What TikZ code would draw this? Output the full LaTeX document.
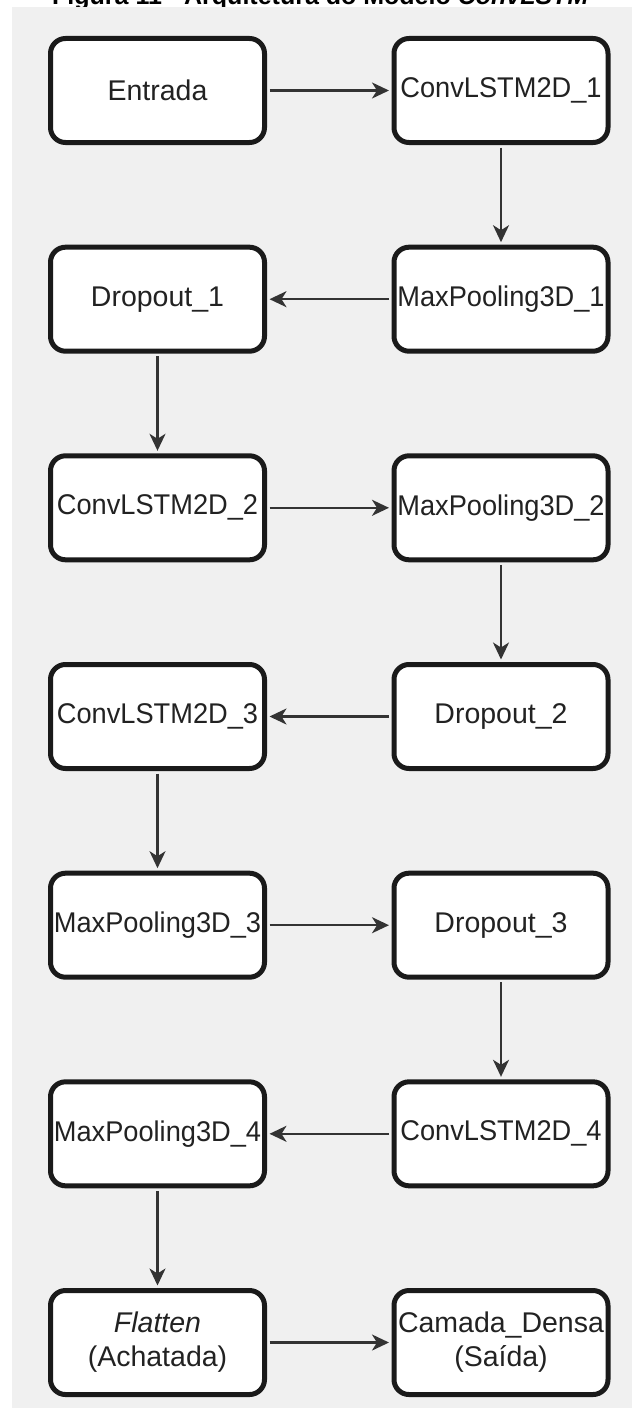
\documentclass[tikz,border=0pt]{standalone}
\usepackage{fontspec}
\usepackage{graphicx}
\setmainfont{Liberation Sans}
\usetikzlibrary{arrows.meta}

\definecolor{panelgray}{HTML}{F0F0F0}
\definecolor{boxline}{HTML}{1A1A1A}
\definecolor{wire}{HTML}{333333}
\definecolor{ink}{HTML}{222222}

% long layer names are set slightly condensed so they fit inside the boxes
\newcommand{\narrowlabel}[1]{\scalebox{0.955}[1]{#1}}

\tikzset{
  layer/.style={draw=boxline, line width=5pt, fill=white, rounded corners=15pt,
    minimum width=214pt, minimum height=104pt, inner sep=0pt, text=ink,
    font=\fontsize{28.5}{34}\selectfont, align=center},
  flow/.style={draw=wire, line width=2.2pt,
    -{Stealth[length=17pt,width=16pt,inset=5pt]},
    shorten >=2.5pt, shorten <=2.5pt}
}

\begin{document}
\begin{tikzpicture}[x=1pt,y=-1pt]
\useasboundingbox (0,0) rectangle (632,1410);

% caption above the panel
\node[anchor=base west, inner sep=0pt, text=black,
  font=\bfseries\fontsize{25}{25}\selectfont] (caption) at (52,5)
  {Figura 11 - Arquitetura do Modelo \textit{ConvLSTM}};

% light panel behind the diagram
\fill[panelgray] (12,7) rectangle (632,1408);

% left column x = 157.5, right column x = 501
\node[layer] (entrada) at (157.5,90.5)  {Entrada};
\node[layer] (conv1)   at (501,90.5)    {\narrowlabel{ConvLSTM2D\_1}};
\node[layer] (pool1)   at (501,299.2)   {\narrowlabel{MaxPooling3D\_1}};
\node[layer] (drop1)   at (157.5,299.2) {Dropout\_1};
\node[layer] (conv2)   at (157.5,507.8) {\narrowlabel{ConvLSTM2D\_2}};
\node[layer] (pool2)   at (501,507.8)   {\narrowlabel{MaxPooling3D\_2}};
\node[layer] (drop2)   at (501,716.5)   {Dropout\_2};
\node[layer] (conv3)   at (157.5,716.5) {\narrowlabel{ConvLSTM2D\_3}};
\node[layer] (pool3)   at (157.5,925.2) {\narrowlabel{MaxPooling3D\_3}};
\node[layer] (drop3)   at (501,925.2)   {Dropout\_3};
\node[layer] (conv4)   at (501,1133.8)  {\narrowlabel{ConvLSTM2D\_4}};
\node[layer] (pool4)   at (157.5,1133.8){\narrowlabel{MaxPooling3D\_4}};
\node[layer] (flat)    at (157.5,1342.5){\textit{Flatten}\\(Achatada)};
\node[layer] (dense)   at (501,1342.5)  {Camada\_Densa\\(Saída)};

% data flow
\draw[flow] (entrada.east) -- (conv1.west);
\draw[flow] (conv1.south)  -- (pool1.north);
\draw[flow] (pool1.west)   -- (drop1.east);
\draw[flow] (drop1.south)  -- (conv2.north);
\draw[flow] (conv2.east)   -- (pool2.west);
\draw[flow] (pool2.south)  -- (drop2.north);
\draw[flow] (drop2.west)   -- (conv3.east);
\draw[flow] (conv3.south)  -- (pool3.north);
\draw[flow] (pool3.east)   -- (drop3.west);
\draw[flow] (drop3.south)  -- (conv4.north);
\draw[flow] (conv4.west)   -- (pool4.east);
\draw[flow] (pool4.south)  -- (flat.north);
\draw[flow] (flat.east)    -- (dense.west);
\end{tikzpicture}
\end{document}
